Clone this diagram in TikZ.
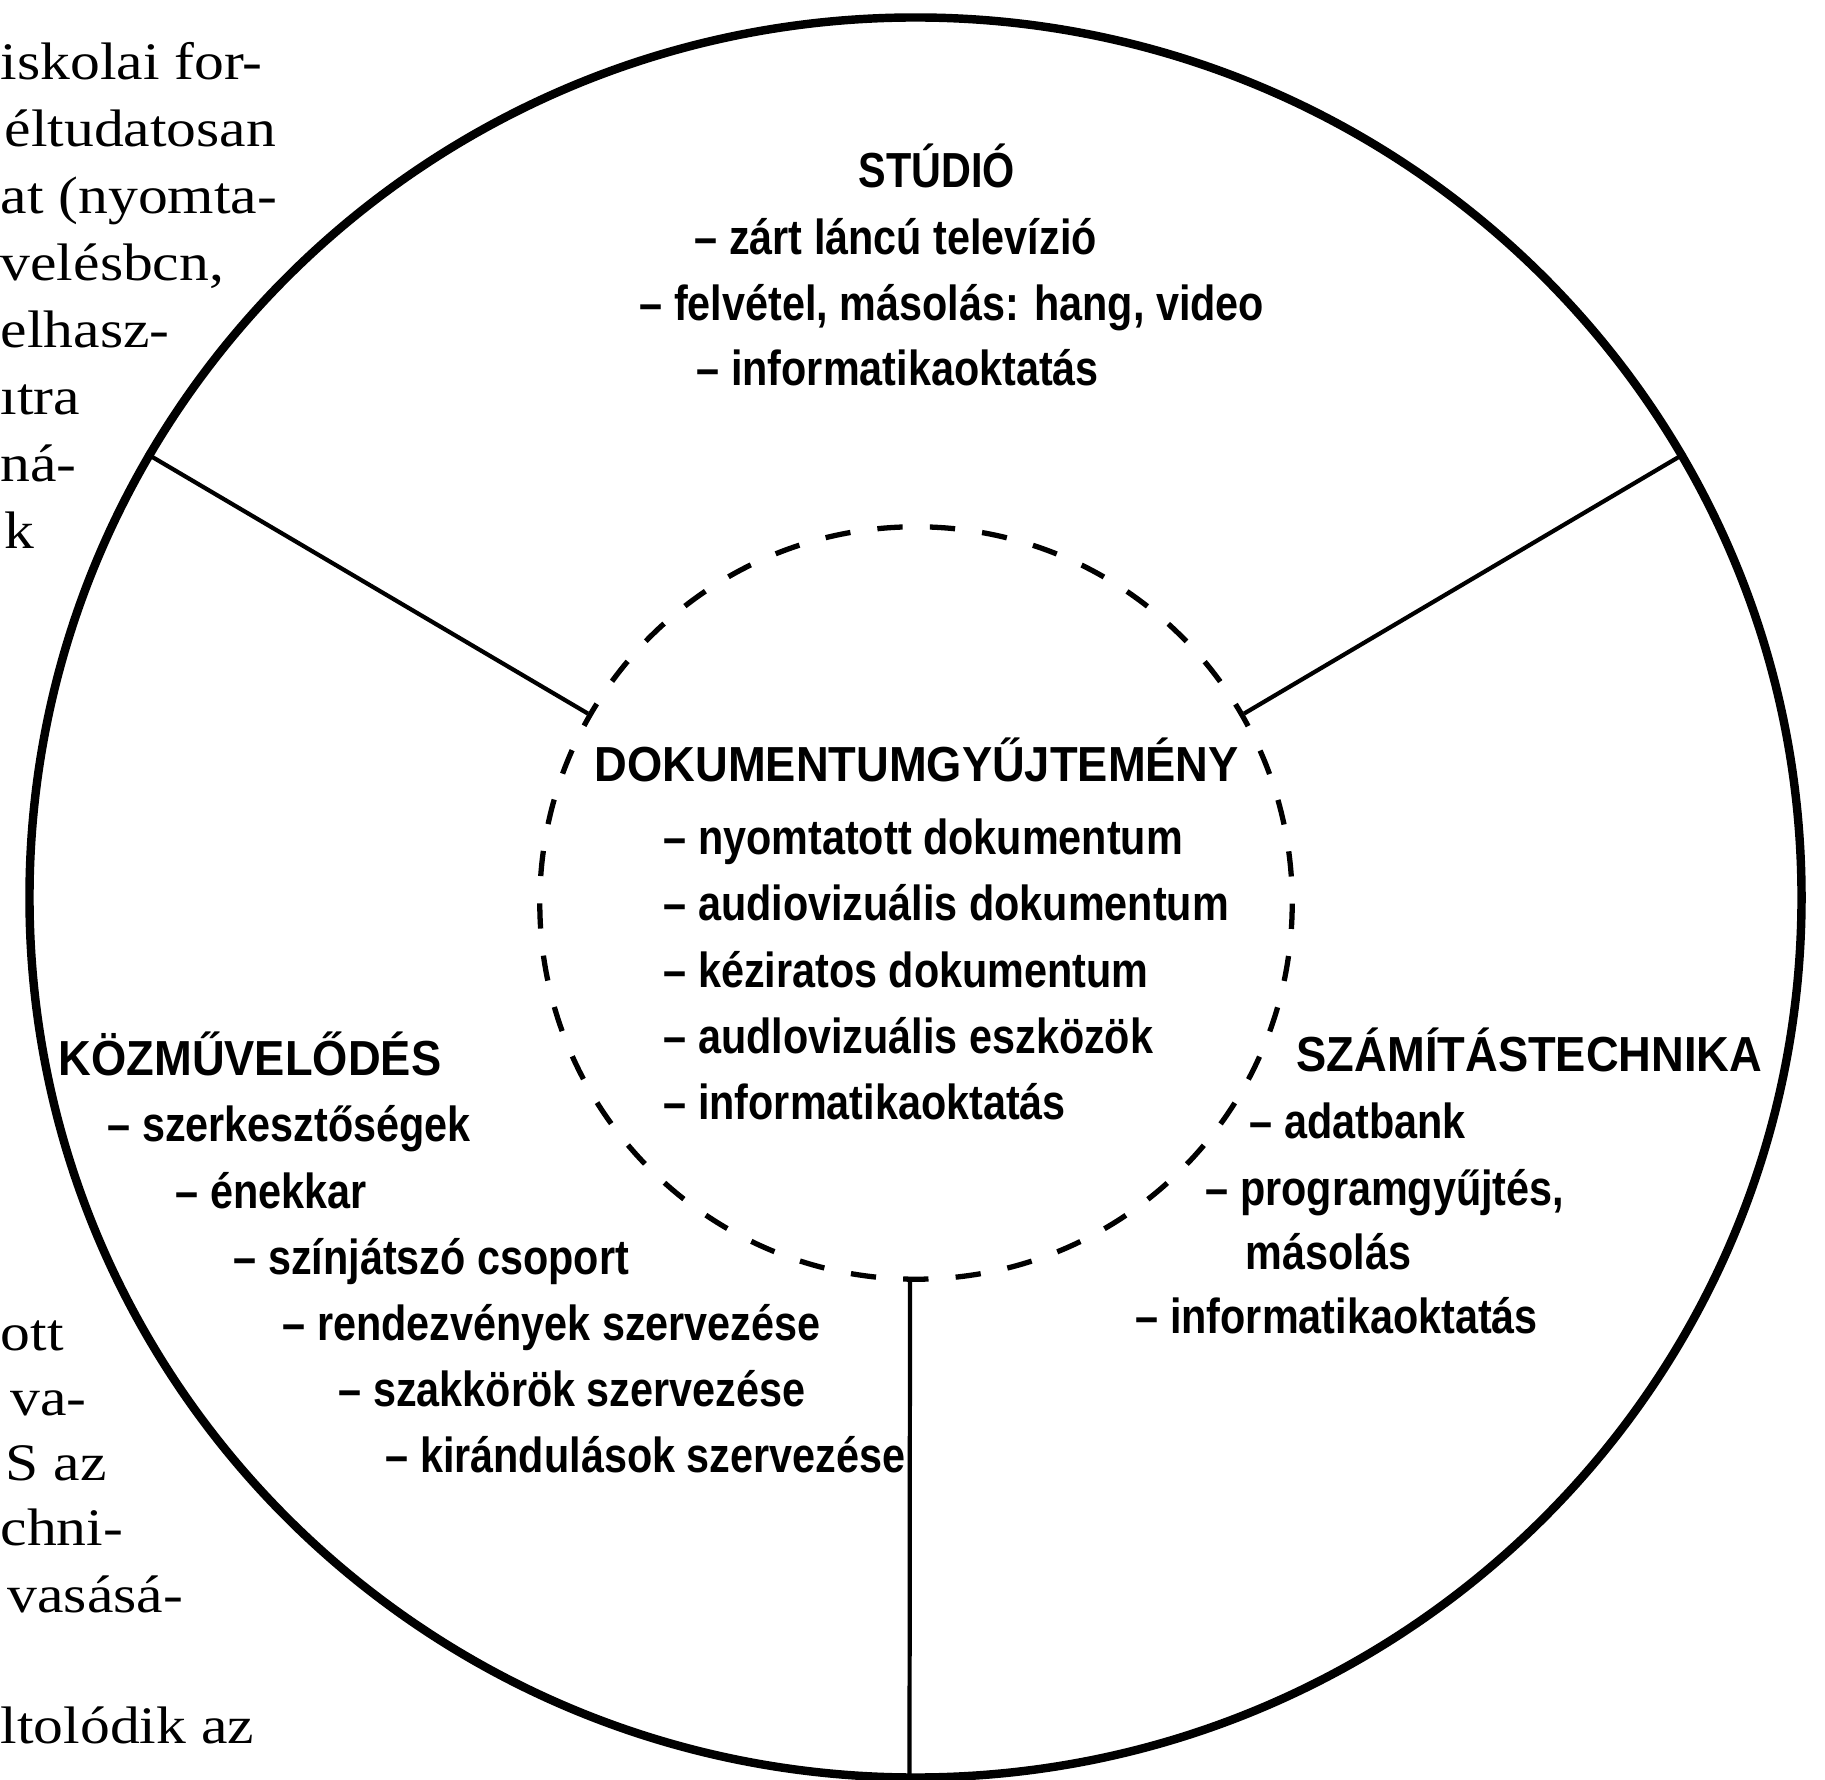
\documentclass[tikz,border=0pt]{standalone}
\usepackage{fontspec}
\usetikzlibrary{shapes.geometric}
\newfontfamily\itemfont[FakeStretch=0.84]{Liberation Sans}
\newfontfamily\headfont[FakeStretch=0.92]{Liberation Sans}
\newfontfamily\bodyfont[FakeStretch=1.13]{Liberation Serif}
\begin{document}
\begin{tikzpicture}[x=0.01cm,y=-0.01cm,
  itm/.style={anchor=base west, inner sep=0, font=\itemfont\bfseries\fontsize{14}{16}\selectfont},
  hd/.style={anchor=base west, inner sep=0, font=\headfont\bfseries\fontsize{14}{16}\selectfont},
  frag/.style={anchor=base west, inner sep=0, font=\bodyfont\fontsize{15}{18}\selectfont},
  radial/.style={line width=1.2pt},
  ]
\fill[white] (0,0) rectangle (1825,1780);
\useasboundingbox (0,0) rectangle (1825,1780);

% circles
\node[ellipse, draw, line width=2.4pt, minimum width=17.71cm, minimum height=17.59cm, inner sep=0] (outer) at (915.5,897.5) {};
\node[circle, draw, line width=1.5pt, dash pattern=on 7.2pt off 7.74pt, dash phase=7.4pt, minimum size=7.52cm, inner sep=0] (inner) at (916,903) {};

\draw[radial] (inner.150) -- (outer.150);
\draw[radial] (inner.30) -- (outer.30);
\draw[radial] ([xshift=-0.06cm]inner.270) -- ([xshift=-0.06cm]outer.270);

% STUDIO
\node[itm] (st0) at (858,188) {STÚDIÓ};
\node[itm] (st1) at (694,255) {– zárt láncú televízió};
\node[itm] (st2) at (639,321) {– felvétel, másolás: hang, video};
\node[itm] (st3) at (696,386) {– informatikaoktatás};

% DOKUMENTUMGYUJTEMENY
\node[hd] (dk0) at (594,782) {DOKUMENTUMGYŰJTEMÉNY};
\node[itm] (dk1) at (663,855) {– nyomtatott dokumentum};
\node[itm] (dk2) at (663,921) {– audiovizuális dokumentum};
\node[itm] (dk3) at (663,987) {– kéziratos dokumentum};
\node[itm] (dk4) at (663,1053) {– audlovizuális eszközök};
\node[itm] (dk5) at (663,1119) {– informatikaoktatás};

% KOZMUVELODES
\node[hd] (kz0) at (58,1075) {KÖZMŰVELŐDÉS};
\node[itm] (kz1) at (107,1141) {– szerkesztőségek};
\node[itm] (kz2) at (175,1208) {– énekkar};
\node[itm] (kz3) at (233,1274) {– színjátszó csoport};
\node[itm] (kz4) at (282,1340) {– rendezvények szervezése};
\node[itm] (kz5) at (338,1406) {– szakkörök szervezése};
\node[itm] (kz6) at (385,1472) {– kirándulások szervezése};

% SZAMITASTECHNIKA
\node[hd] (sz0) at (1296,1071) {SZÁMÍTÁSTECHNIKA};
\node[itm] (sz1) at (1249,1138) {– adatbank};
\node[itm] (sz2) at (1205,1205) {– programgyűjtés,};
\node[itm] (sz3) at (1245,1269) {másolás};
\node[itm] (sz4) at (1135,1333) {– informatikaoktatás};

% cut-off body text, top left
\node[frag] (f1) at (0,80) {iskolai for-};
\node[frag] (f2) at (4,147) {éltudatosan};
\node[frag] (f3) at (0,214) {at (nyomta-};
\node[frag] (f4) at (0,281) {velésbcn,};
\node[frag] (f5) at (0,348) {elhasz-};
\node[frag] (f6) at (0,415) {ıtra};
\node[frag] (f7) at (0,482) {ná-};
\node[frag] (f8) at (4,549) {k};

% cut-off body text, bottom left
\node[frag] (g1) at (0,1350) {ott};
\node[frag] (g2) at (10,1415) {va-};
\node[frag] (g3) at (5,1480) {S az};
\node[frag] (g4) at (0,1545) {chni-};
\node[frag] (g5) at (7,1612) {vasásá-};
\node[frag] (g6) at (0,1743) {ltolódik az};
\end{tikzpicture}
\end{document}
